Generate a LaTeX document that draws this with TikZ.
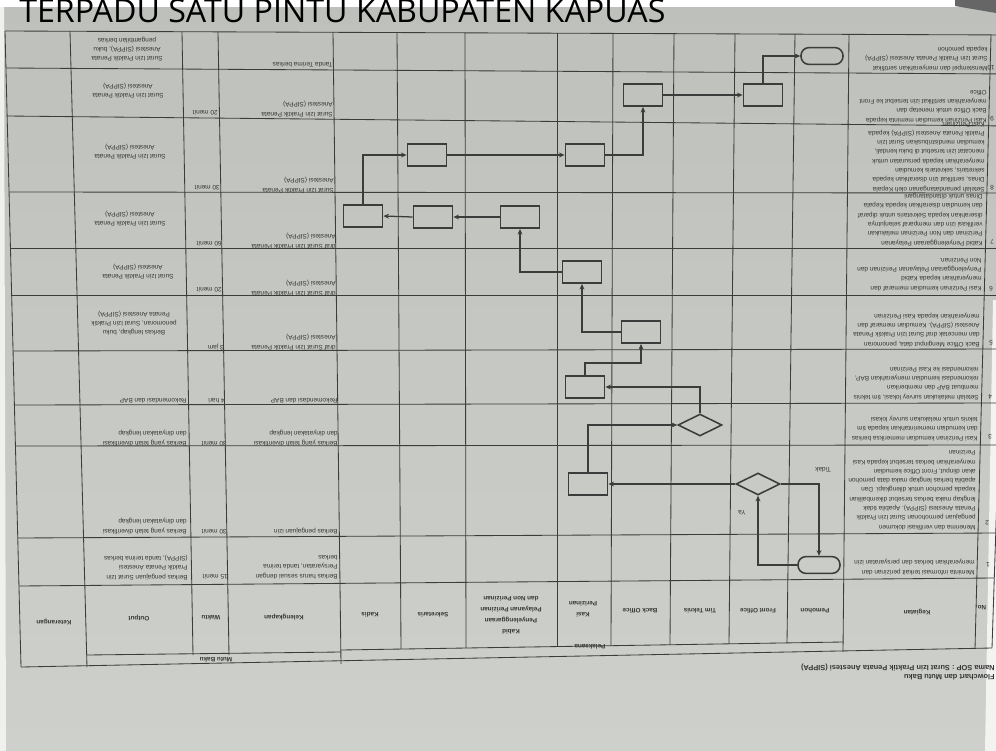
\documentclass[tikz,border=0pt]{standalone}
\usepackage{fontspec}
\usetikzlibrary{shapes.geometric,arrows.meta,calc}
\newfontfamily\titlef{Open Sans}
\newfontfamily\arialf{Liberation Sans}
\newcommand\cellfont{\arialf\fontsize{4.6}{6.6}\selectfont}
\newcommand\kopfont{\arialf\bfseries\fontsize{4.5}{7.8}\selectfont}
\newcommand\namafont{\arialf\bfseries\fontsize{5.3}{6.6}\selectfont}
\definecolor{kertas}{RGB}{190,192,187}
\definecolor{kertasb}{RGB}{206,208,203}
\definecolor{garis}{RGB}{60,60,60}
\definecolor{tinta}{RGB}{55,55,55}

\tikzset{
  isi/.style={rotate=180, anchor=north west, inner sep=0pt, align=left, font=\cellfont, text=tinta},
  isic/.style={rotate=180, inner sep=0pt, align=center, font=\cellfont, text=tinta},
  kop/.style={rotate=180, inner sep=0pt, align=center, font=\kopfont, text=tinta},
  proses/.style={draw=garis, line width=1.1pt, minimum width=0.98cm, minimum height=0.56cm, inner sep=0pt},
  terminal/.style={draw=garis, line width=1.1pt, rounded corners=0.2cm, minimum width=1.05cm, minimum height=0.42cm, inner sep=0pt},
  putusan/.style={diamond, draw=garis, line width=1.1pt, aspect=2, minimum width=1.1cm, minimum height=0.55cm, inner sep=0pt},
  panah/.style={draw=garis, line width=0.9pt, -{Stealth[length=4pt,width=3.5pt]}},
  garistabel/.style={draw=garis, line width=0.6pt}
}

\begin{document}
\begin{tikzpicture}[x=0.025cm, y=-0.025cm]
	\useasboundingbox (0,0) rectangle (996,751);
	% kertas
	\shade[top color=kertas, bottom color=kertasb] (0,0) rectangle (996,751);
	\fill[white] (0,0) rectangle (996,7);
	\fill[black!60] (955,0) -- (996,0) -- (996,13) -- (955,6) -- cycle;
	\fill[white!75!kertasb] (993,300) -- (996,300) -- (996,751) -- (985,751) -- cycle;
	\fill[white!70!kertasb] (0,7) -- (4,7) -- (6,751) -- (0,751) -- cycle;

	\node [anchor=base west, inner sep=0pt, font=\titlef\fontsize{22.9}{24}\selectfont]
	(judul) at (19,22) {TERPADU SATU PINTU KABUPATEN KAPUAS};

	% garis baris
	\foreach \yl/\xl/\yr/\xr in {31/5/35/1012, 68/6/74/1011, 116/7/126/1009,
		192/9/193/1007, 248/10/248/1005, 295/12/295/1004, 351/13/349/1002,
		405/14/403/1000, 446/15/445/999, 538/18/533/996, 586/19/578/994}
		\draw [garistabel] (\xl,\yl) -- (\xr,\yr);
	\draw [garistabel] (87,655) -- (341,652);
	\draw [garistabel] (341,650) -- (843,642);
	\draw [garistabel] (21,667) -- (992,648);

	% garis kolom
	\foreach \xt/\yt/\xb/\yb in {5/31/21/667, 70/31/87/667, 182/32/193/655,
		218/32/229/655, 333/32/341/664, 397/32/401/649, 465/33/466/648,
		557/33/557/647, 613/33/611/646, 674/33/670/645, 735/34/729/644,
		795/34/787/643, 849/34/843/652, 991/35/975/649, 1012/35/992/648}
		\draw [garistabel] (\xt,\yt) -- (\xb,\yb);

	% kepala tabel
	\node [kop] (hno) at (981,608) {No.};
	\node [kop] (hkeg) at (917,612) {Kegiatan};
	\node [kop] (hpem) at (815,611) {Pemohon};
	\node [kop] (hfo) at (758,611) {Front Office};
	\node [kop] (htim) at (700,611) {Tim Teknis};
	\node [kop] (hbo) at (640,611) {Back Office};
	\node [kop] (hkasi) at (583,609) {Kasi\\Perizinan};
	\node [kop] (hkabid) at (511,615) {Kabid\\Penyelenggaraan\\Pelayanan Perizinan\\dan Non Perizinan};
	\node [kop] (hsek) at (433,615) {Sekretaris};
	\node [kop] (hkadis) at (370,615) {Kadis};
	\node [kop] (hkel) at (284,617) {Kelengkapan};
	\node [kop] (hwkt) at (211,618) {Waktu};
	\node [kop] (hout) at (139,618) {Output};
	\node [kop] (hket) at (54,622) {Keterangan};
	\node [kop] (hpel) at (590,647) {Pelaksana};
	\node [kop] (hmutu) at (216,660) {Mutu Baku};

	\node [isi, font=\namafont] (alur) at (995,680) {Flowchart dan Mutu Baku};
	\node [isi, font=\namafont] (nama) at (995,671) {Nama SOP : Surat Izin Praktik Penata Anestesi (SIPPA)};

	% nomor
	\node [isic] (no1) at (988,565) {1};
	\node [isic] (no2) at (987,523) {2};
	\node [isic] (no3) at (990,437) {3};
	\node [isic] (no4) at (990,397) {4};
	\node [isic] (no5) at (991,343) {5};
	\node [isic] (no6) at (991,289) {6};
	\node [isic] (no7) at (992,242) {7};
	\node [isic] (no8) at (992,188) {8};
	\node [isic] (no9) at (992,119) {9};
	\node [isic] (no10) at (991,68) {10};

	% kegiatan
	\node [isi] (keg1) at (975,575) {Meminta informasi terkait perizinan dan\\menyerahkan berkas dan persyaratan izin};
	\node [isi] (keg2) at (976,530) {Menerima dan verifikasi dokumen\\pengajuan permohonan Surat Izin Praktik\\Penata Anestesi (SIPPA). Apabila tidak\\lengkap maka berkas tersebut dikembalikan\\kepada pemohon untuk dilengkapi. Dan\\apabila berkas lengkap maka data pemohon\\akan diinput, Front Office kemudian\\menyerahkan berkas tersebut kepada Kasi\\Perizinan};
	\node [isi] (keg3) at (978,441) {Kasi Perizinan kemudian memeriksa berkas\\dan kemudian memerintahkan kepada tim\\teknis untuk melakukan survey lokasi};
	\node [isi] (keg4) at (979,400) {Setelah melakukan survey lokasi, tim teknis\\membuat BAP dan memberikan\\rekomendasi kemudian menyerahkan BAP,\\rekomendasi ke Kasi Perizinan};
	\node [isi] (keg5) at (980,347) {Back Office Menginput data, penomoran\\dan mencetak draf Surat Izin Praktik Penata\\Anestesi (SIPPA). Kemudian memaraf dan\\menyerahkan kepada Kasi Perizinan};
	\node [isi] (keg6) at (982,291) {Kasi Perizinan kemudian memaraf dan\\menyerahkan kepada Kabid\\Penyelenggaraan Pelayanan Perizinan dan\\Non Perizinan.};
	\node [isi] (keg7) at (983,246) {Kabid Penyelenggaraan Pelayanan\\Perizinan dan Non Perizinan melakukan\\verifikasi izin dan memparaf selanjutnya\\diserahkan kepada Sekretaris untuk diparaf\\dan kemudian diserahkan kepada Kepala\\Dinas untuk ditandatangani};
	\node [isi] (keg8) at (985,192) {Setelah penandatanganan oleh Kepala\\Dinas, sertifikat izin diserahkan kepada\\sekretaris, sekretaris kemudian\\menyerahkan kepada persuratan untuk\\mencatat izin tersebut di buku kendali,\\kemudian mendistribusikan Surat Izin\\Praktik Penata Anestesi (SIPPA) kepada\\Kasi Perizinan};
	\node [isi] (keg9) at (987,123) {Kasi Perizinan kemudian meminta kepada\\Back Office untuk menetap dan\\menyerahkan sertifikat izin tersebut ke Front\\Office};
	\node [isi] (keg10) at (988,71) {Menstempel dan menyerahkan sertifikat\\Surat Izin Praktik Penata Anestesi (SIPPA)\\kepada pemohon};

	% kelengkapan
	\node [isi] (kel1) at (338,579) {Berkas harus sesuai dengan\\Persyaratan, tanda terima\\berkas};
	\node [isi] (kel2) at (338,534) {Berkas pengajuan izin};
	\node [isi] (kel3) at (338,446) {Berkas yang telah diverifikasi\\dan dinyatakan lengkap};
	\node [isi] (kel4) at (338,403) {Rekomendasi dan BAP};
	\node [isi] (kel5) at (336,350) {draf Surat Izin Praktik Penata\\Anestesi (SIPPA)};
	\node [isi] (kel6) at (336,296) {draf Surat Izin Praktik Penata\\Anestesi (SIPPA)};
	\node [isi] (kel7) at (336,249) {draf Surat Izin Praktik Penata\\Anestesi (SIPPA)};
	\node [isi] (kel8) at (334,193) {Surat Izin Praktik Penata\\Anestesi (SIPPA)};
	\node [isi] (kel9) at (333,117) {Surat Izin Praktik Penata\\Anestesi (SIPPA)};
	\node [isi] (kel10) at (333,67) {Tanda Terima berkas};

	% waktu
	\node [isi] (wkt1) at (228,579) {15 menit};
	\node [isi] (wkt2) at (227,534) {30 menit};
	\node [isi] (wkt3) at (227,446) {30 menit};
	\node [isi] (wkt4) at (225,403) {4 hari};
	\node [isi] (wkt5) at (224,350) {3 jam};
	\node [isi] (wkt6) at (222,292) {20 menit};
	\node [isi] (wkt7) at (222,246) {60 menit};
	\node [isi] (wkt8) at (220,190) {30 menit};
	\node [isi] (wkt9) at (218,115) {20 menit};

	% output
	\node [isi] (out1) at (188,580) {Berkas pengajuan Surat Izin\\Praktik Penata Anestesi\\(SIPPA), tanda terima berkas};
	\node [isi] (out2) at (187,534) {Berkas yang telah diverifikasi\\dan dinyatakan lengkap};
	\node [isi] (out3) at (187,446) {Berkas yang telah diverifikasi\\dan dinyatakan lengkap};
	\node [isi] (out4) at (187,403) {Rekomendasi dan BAP};
	\node [isic] (out5) at (134,323) {Berkas lengkap, buku\\penomoran, Surat Izin Praktik\\Penata Anestesi (SIPPA)};
	\node [isic] (out6) at (138,272) {Surat Izin Praktik Penata\\Anestesi (SIPPA)};
	\node [isic] (out7) at (130,219) {Surat Izin Praktik Penata\\Anestesi (SIPPA)};
	\node [isic] (out8) at (130,152) {Surat Izin Praktik Penata\\Anestesi (SIPPA)};
	\node [isic] (out9) at (128,91) {Surat Izin Praktik Penata\\Anestesi (SIPPA)};
	\node [isic] (out10) at (127,49) {Surat Izin Praktik Penata\\Anestesi (SIPPA), buku\\pengambilan berkas};

	% bagan alur
	\node [terminal] (mulai) at (819,565) {};
	\node [putusan] (cek) at (758,484) {};
	\node [proses] (kasi2) at (588,484) {};
	\node [putusan] (survei) at (700,425) {};
	\node [proses] (kasi4) at (585,387) {};
	\node [proses] (bo5) at (641,332) {};
	\node [proses] (kasi6) at (582,272) {};
	\node [proses] (kabid7) at (520,217) {};
	\node [proses] (sek7) at (433,217) {};
	\node [proses] (kadis7) at (363,216) {};
	\node [proses] (sek8) at (427,155) {};
	\node [proses] (kasi8) at (585,155) {};
	\node [proses] (bo9) at (643,95) {};
	\node [proses] (fo9) at (763,95) {};
	\node [terminal] (selesai) at (822,56) {};

	\node [isic] (ya) at (742,513) {Ya};
	\node [isic] (tidak) at (823,470) {Tidak};

	\draw [panah] (mulai.west) -| (cek.south);
	\draw [panah] (cek.east) -| (mulai.north);
	\draw [panah] (cek.west) -- (kasi2.east);
	\draw [panah] (kasi2.north) |- (survei.west);
	\draw [panah] (survei.north) |- (kasi4.east);
	\draw [panah] (kasi4.north) |- ($(bo5.south)+(0,19)$) -- (bo5.south);
	\draw [panah] (bo5.west) -| (kasi6.south);
	\draw [panah] (kasi6.west) -| (kabid7.south);
	\draw [panah] (kabid7.west) -- (sek7.east);
	\draw [panah] (sek7.west) -- (kadis7.east);
	\draw [panah] (kadis7.north) |- (sek8.west);
	\draw [panah] (sek8.east) -- (kasi8.west);
	\draw [panah] (kasi8.east) -| (bo9.south);
	\draw [panah] (bo9.east) -- (fo9.west);
	\draw [panah] (fo9.north) |- (selesai.west);
\end{tikzpicture}
\end{document}
